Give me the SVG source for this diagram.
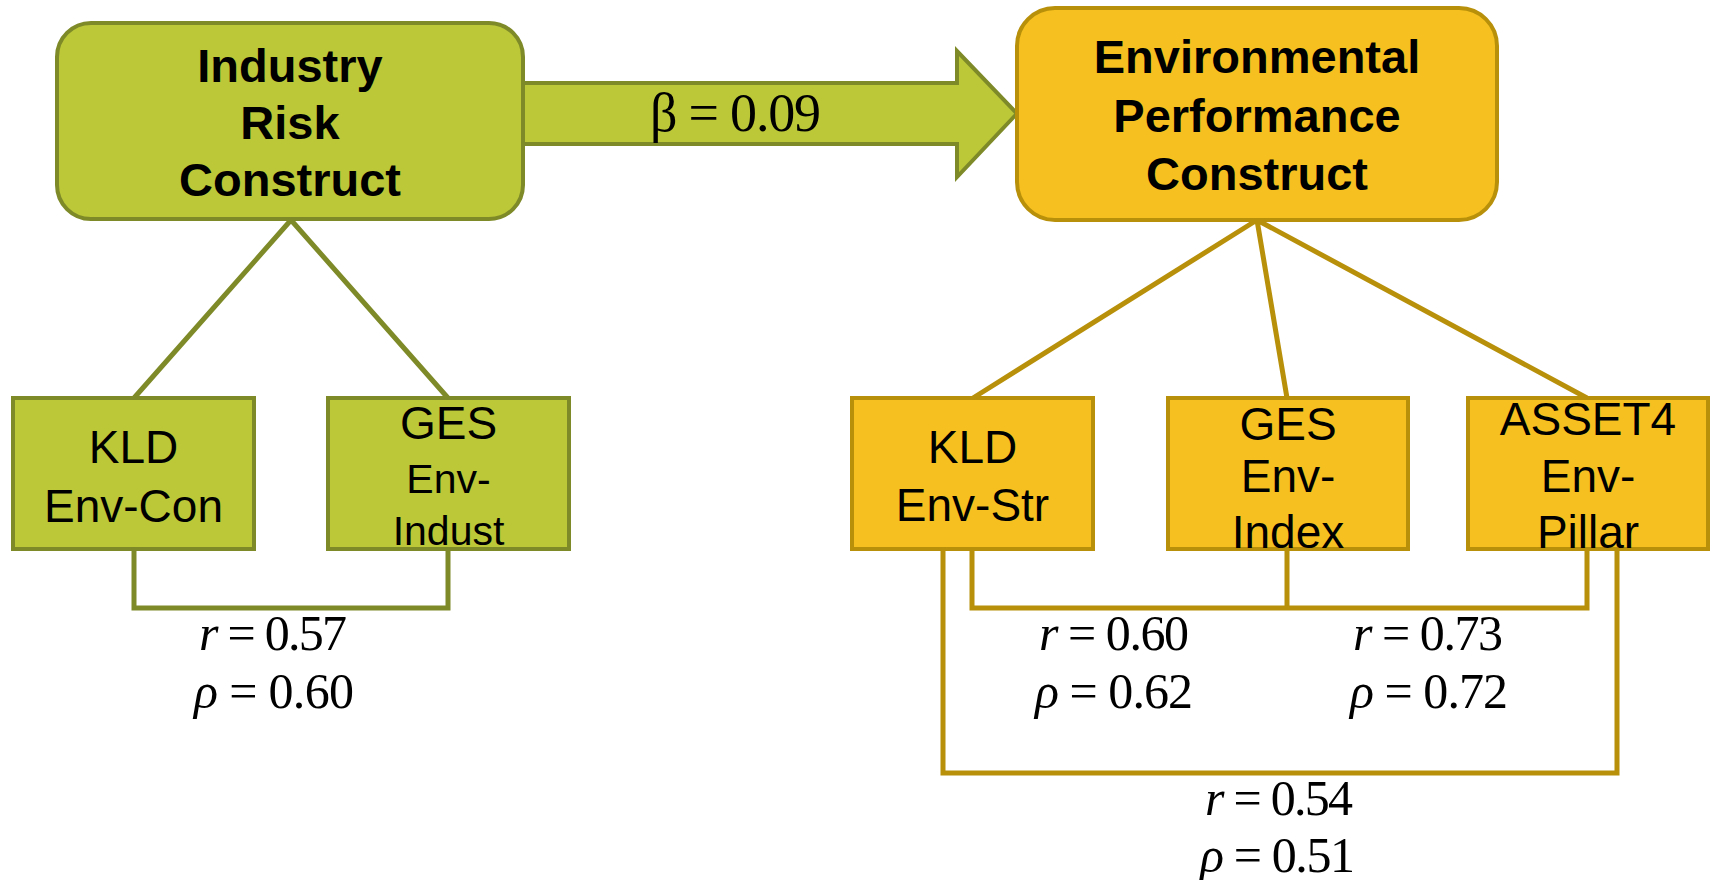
<svg xmlns="http://www.w3.org/2000/svg" width="1713" height="880" viewBox="0 0 1713 880">
<style>
.gbox{fill:#BCC838;stroke:#7E8A28;stroke-width:4}
.obox{fill:#F6C120;stroke:#B8900A;stroke-width:4}
.gline{fill:none;stroke:#7E8A28;stroke-width:5}
.oline{fill:none;stroke:#B8900A;stroke-width:5}
.title{font-family:"Liberation Sans",Arial,sans-serif;font-weight:bold;font-size:47px;fill:#000;text-anchor:middle}
.ind{font-family:"Liberation Sans",Arial,sans-serif;font-size:46px;fill:#000;text-anchor:middle}
.math{font-family:"Liberation Serif","Times New Roman",serif;font-size:50px;fill:#000}
.it{font-style:italic}
</style>
<rect width="1713" height="880" fill="#fff"/>
<g id="connectors">
<polygon id="arrow" points="521,83 957,83 957,51 1017,113.5 957,177 957,144 521,144" fill="#BCC838" stroke="#7E8A28" stroke-width="4" stroke-linejoin="miter"/>
<path class="gline" d="M291,220 L134,398 M291,220 L448,398"/>
<path class="gline" d="M134,549 V608 H448 V549"/>
<path class="oline" d="M1257,220 L973,398 M1257,220 L1287,398 M1257,220 L1587,398"/>
<path class="oline" d="M972,549 V608 H1587 V549 M1287,549 V608"/>
<path class="oline" d="M943,549 V773 H1617 V549"/>
</g>
<g id="industry-risk">
<rect class="gbox" x="57" y="23" width="466" height="196" rx="34"/>
<text class="title" x="290" y="82">Industry</text>
<text class="title" x="290" y="139">Risk</text>
<text class="title" x="290" y="196">Construct</text>
</g>
<g id="env-performance">
<rect class="obox" x="1017" y="8" width="480" height="212" rx="38"/>
<text class="title" x="1257" y="73">Environmental</text>
<text class="title" x="1257" y="132">Performance</text>
<text class="title" x="1257" y="190">Construct</text>
</g>
<g id="beta-label">
<text class="math" x="650" y="131" style="font-size:54px" textLength="171" lengthAdjust="spacing">β = 0.09</text>
</g>
<g id="kld-env-con">
<rect class="gbox" x="13" y="398" width="241" height="151"/>
<text class="ind" x="133.5" y="463">KLD</text>
<text class="ind" x="133.5" y="522">Env-Con</text>
</g>
<g id="ges-env-indust">
<rect class="gbox" x="328" y="398" width="241" height="151"/>
<text class="ind" x="448.5" y="439">GES</text>
<text class="ind" x="448.5" y="493" style="font-size:41px">Env-</text>
<text class="ind" x="448.5" y="545" style="font-size:41px">Indust</text>
</g>
<g id="kld-env-str">
<rect class="obox" x="852" y="398" width="241" height="151"/>
<text class="ind" x="972.5" y="463">KLD</text>
<text class="ind" x="972.5" y="521">Env-Str</text>
</g>
<g id="ges-env-index">
<rect class="obox" x="1168" y="398" width="240" height="151"/>
<text class="ind" x="1288" y="440">GES</text>
<text class="ind" x="1288" y="492">Env-</text>
<text class="ind" x="1288" y="548">Index</text>
</g>
<g id="asset4-env-pillar">
<rect class="obox" x="1468" y="398" width="240" height="151"/>
<text class="ind" x="1588" y="435">ASSET4</text>
<text class="ind" x="1588" y="492">Env-</text>
<text class="ind" x="1588" y="548">Pillar</text>
</g>
<g id="correlations">
<text class="math" x="199" y="650" textLength="148" lengthAdjust="spacing"><tspan class="it">r</tspan> = 0.57</text>
<text class="math" x="194" y="708" textLength="160" lengthAdjust="spacing"><tspan class="it">ρ</tspan> = 0.60</text>
<text class="math" x="1039" y="650" textLength="150" lengthAdjust="spacing"><tspan class="it">r</tspan> = 0.60</text>
<text class="math" x="1035" y="708" textLength="158" lengthAdjust="spacing"><tspan class="it">ρ</tspan> = 0.62</text>
<text class="math" x="1353" y="650" textLength="150" lengthAdjust="spacing"><tspan class="it">r</tspan> = 0.73</text>
<text class="math" x="1350" y="708" textLength="158" lengthAdjust="spacing"><tspan class="it">ρ</tspan> = 0.72</text>
<text class="math" x="1205" y="815" textLength="148" lengthAdjust="spacing"><tspan class="it">r</tspan> = 0.54</text>
<text class="math" x="1200" y="872" textLength="155" lengthAdjust="spacing"><tspan class="it">ρ</tspan> = 0.51</text>
</g>
</svg>
